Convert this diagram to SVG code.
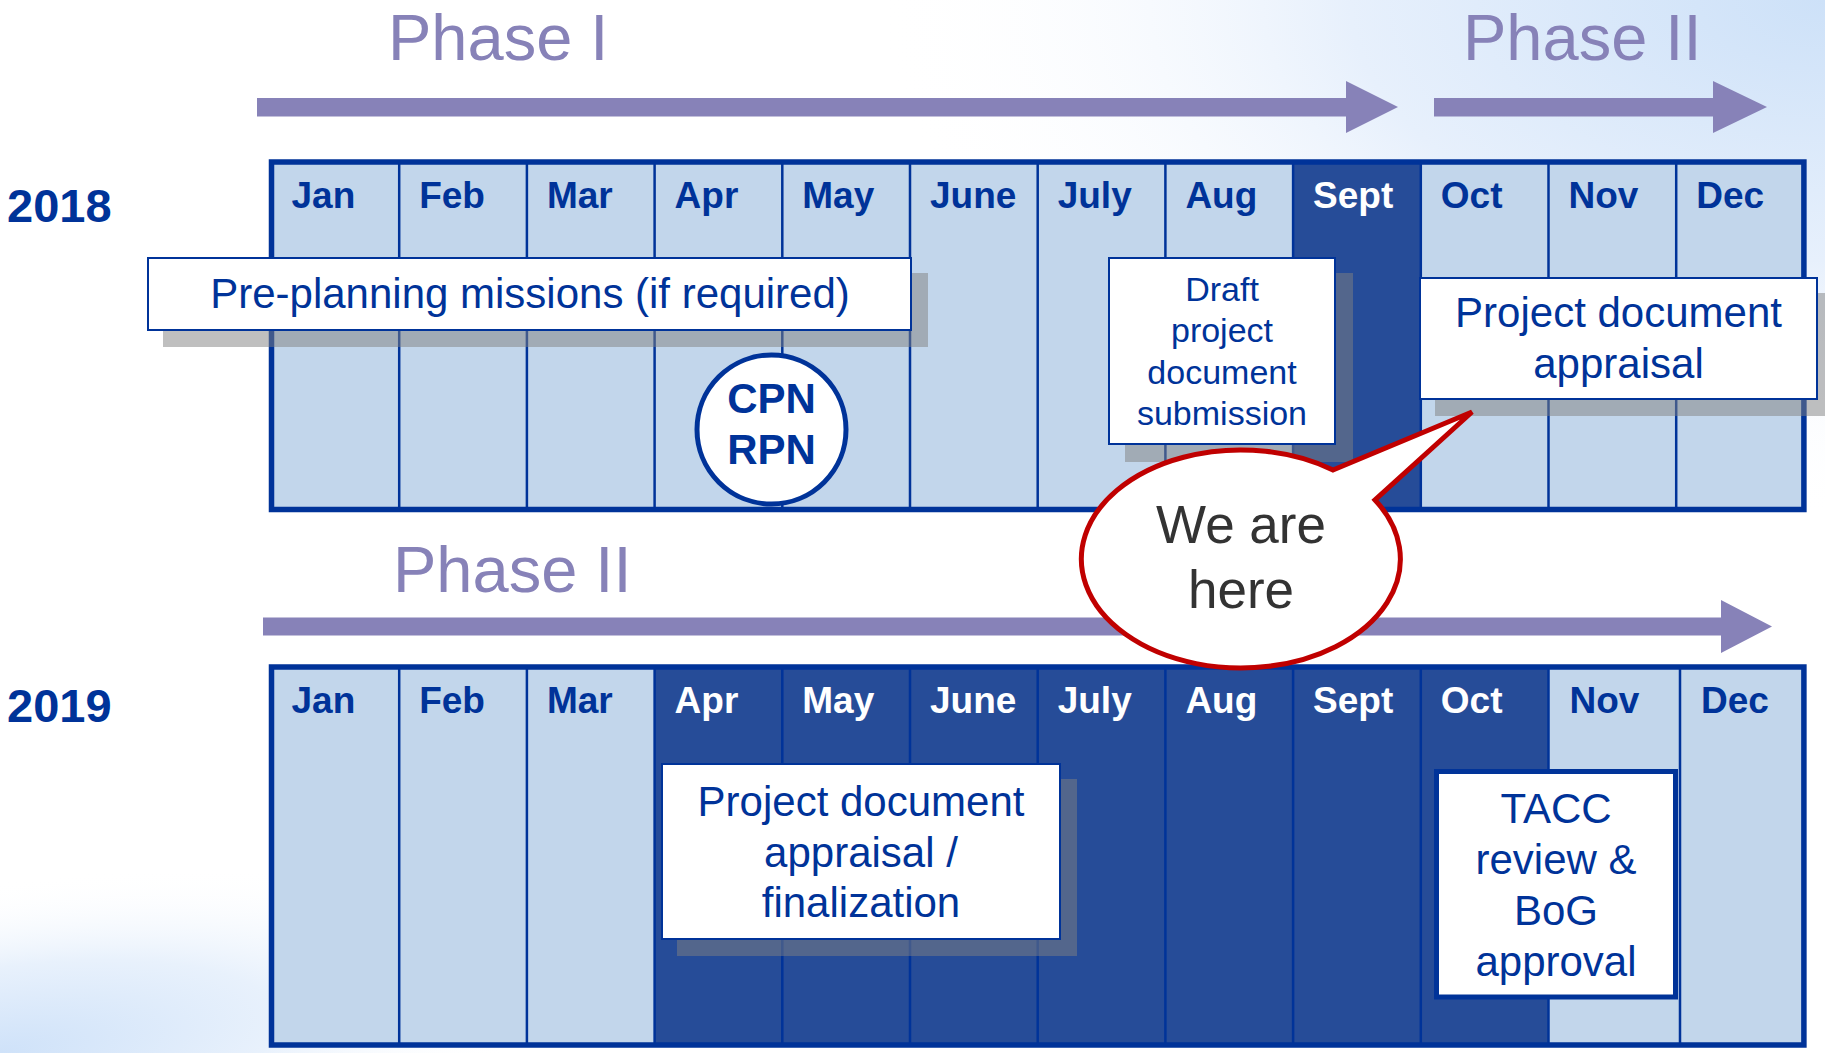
<svg xmlns="http://www.w3.org/2000/svg" width="1825" height="1053" viewBox="0 0 1825 1053">
<defs>
<radialGradient id="bgTR" gradientUnits="userSpaceOnUse" cx="0" cy="0" r="1" gradientTransform="translate(1825 0) scale(950 520)">
<stop offset="0" stop-color="#cde1f8"/>
<stop offset="0.5" stop-color="#e7f0fc"/>
<stop offset="1" stop-color="#ffffff" stop-opacity="0"/>
</radialGradient>
<radialGradient id="bgBL" gradientUnits="userSpaceOnUse" cx="0" cy="0" r="1" gradientTransform="translate(0 1053) rotate(-8) scale(560 170)">
<stop offset="0" stop-color="#cfe2f9"/>
<stop offset="0.5" stop-color="#e8f1fc"/>
<stop offset="1" stop-color="#ffffff" stop-opacity="0"/>
</radialGradient>
<style>
text{font-family:"Liberation Sans",Arial,Helvetica,sans-serif}
.phase{font-size:65px;fill:#8782B8}
.year{font-size:47px;font-weight:bold;fill:#003399}
.mon{font-size:37px;font-weight:bold;fill:#003399}
.w{fill:#ffffff}
.lt{fill:#C2D6EB}
.dk{fill:#264C98}
.div{stroke:#003399;stroke-width:2.5}
.frame{fill:none;stroke:#003399;stroke-width:5.5}
.box{fill:#ffffff;stroke:#003399;stroke-width:2}
.shadow{fill:#808080;fill-opacity:0.5}
.lbl{font-size:42px;fill:#003399;text-anchor:middle}
.arrow{fill:#8782B8}
</style>
</defs>
<rect width="1825" height="1053" fill="#ffffff"/>
<rect width="1825" height="1053" fill="url(#bgTR)"/>
<rect width="1825" height="1053" fill="url(#bgBL)"/>

<g id="phase-labels">
<text class="phase" x="388" y="60">Phase I</text>
<text class="phase" x="1463" y="60">Phase II</text>
<text class="phase" x="393" y="592">Phase II</text>
</g>

<g id="connectors">
<polygon class="arrow" points="257,98 1346,98 1346,81 1398,107 1346,133 1346,116.5 257,116.5"/>
<polygon class="arrow" points="1434,98 1713,98 1713,81 1767,107 1713,133 1713,116.5 1434,116.5"/>
<polygon class="arrow" points="263,617.5 1721,617.5 1721,600 1772,626.5 1721,653 1721,635.5 263,635.5"/>
</g>

<g id="grid-2018">
<rect class="lt" x="271.5" y="162" width="1532.4" height="347.5"/>
<rect class="dk" x="1293.1" y="162" width="127.7" height="347.5"/>
<g class="div">
<line x1="399.2" y1="162" x2="399.2" y2="509.5"/>
<line x1="526.9" y1="162" x2="526.9" y2="509.5"/>
<line x1="654.6" y1="162" x2="654.6" y2="509.5"/>
<line x1="782.3" y1="162" x2="782.3" y2="509.5"/>
<line x1="910" y1="162" x2="910" y2="509.5"/>
<line x1="1037.7" y1="162" x2="1037.7" y2="509.5"/>
<line x1="1165.4" y1="162" x2="1165.4" y2="509.5"/>
<line x1="1293.1" y1="162" x2="1293.1" y2="509.5"/>
<line x1="1420.8" y1="162" x2="1420.8" y2="509.5"/>
<line x1="1548.5" y1="162" x2="1548.5" y2="509.5"/>
<line x1="1676.2" y1="162" x2="1676.2" y2="509.5"/>
</g>
<rect class="frame" x="271.5" y="162" width="1532.4" height="347.5"/>
<text class="year" x="7" y="222">2018</text>
<text class="mon" x="291.5" y="208">Jan</text>
<text class="mon" x="419.2" y="208">Feb</text>
<text class="mon" x="546.9" y="208">Mar</text>
<text class="mon" x="674.6" y="208">Apr</text>
<text class="mon" x="802.3" y="208">May</text>
<text class="mon" x="930" y="208">June</text>
<text class="mon" x="1057.7" y="208">July</text>
<text class="mon" x="1185.4" y="208">Aug</text>
<text class="mon w" x="1313.1" y="208">Sept</text>
<text class="mon" x="1440.8" y="208">Oct</text>
<text class="mon" x="1568.5" y="208">Nov</text>
<text class="mon" x="1696.2" y="208">Dec</text>
</g>

<g id="node-preplanning">
<rect class="shadow" x="163" y="273" width="765" height="74"/>
<rect class="box" x="148" y="258" width="763" height="72"/>
<text class="lbl" x="530" y="308">Pre-planning missions (if required)</text>
</g>

<g id="node-cpn-rpn">
<circle cx="771.5" cy="429.5" r="74.5" fill="#ffffff" stroke="#003399" stroke-width="5"/>
<text x="771.5" y="413" font-size="42" font-weight="bold" fill="#003399" text-anchor="middle">CPN</text>
<text x="771.5" y="464" font-size="42" font-weight="bold" fill="#003399" text-anchor="middle">RPN</text>
</g>

<g id="node-draft">
<rect class="shadow" x="1125" y="273" width="228" height="189"/>
<rect class="box" x="1109" y="258" width="226" height="186"/>
<text class="lbl" font-size="34" style="font-size:34px" x="1222" y="301">Draft</text>
<text class="lbl" style="font-size:34px" x="1222" y="342">project</text>
<text class="lbl" style="font-size:34px" x="1222" y="384">document</text>
<text class="lbl" style="font-size:34px" x="1222" y="425">submission</text>
</g>

<g id="node-appraisal-2018">
<rect class="shadow" x="1435" y="293" width="400" height="123"/>
<rect class="box" x="1420" y="278" width="397" height="121"/>
<text class="lbl" x="1618.5" y="327">Project document</text>
<text class="lbl" x="1618.5" y="378">appraisal</text>
</g>

<g id="grid-2019">
<rect class="lt" x="271.5" y="667" width="1532.4" height="378"/>
<rect class="dk" x="654.6" y="667" width="893.9" height="378"/>
<g class="div">
<line x1="399.2" y1="667" x2="399.2" y2="1045"/>
<line x1="526.9" y1="667" x2="526.9" y2="1045"/>
<line x1="654.6" y1="667" x2="654.6" y2="1045"/>
<line x1="782.3" y1="667" x2="782.3" y2="1045"/>
<line x1="910" y1="667" x2="910" y2="1045"/>
<line x1="1037.7" y1="667" x2="1037.7" y2="1045"/>
<line x1="1165.4" y1="667" x2="1165.4" y2="1045"/>
<line x1="1293.1" y1="667" x2="1293.1" y2="1045"/>
<line x1="1420.8" y1="667" x2="1420.8" y2="1045"/>
<line x1="1548.5" y1="667" x2="1548.5" y2="1045"/>
<line x1="1680" y1="667" x2="1680" y2="1045"/>
</g>
<rect class="frame" x="271.5" y="667" width="1532.4" height="378"/>
<text class="year" x="7" y="722">2019</text>
<text class="mon" x="291.5" y="713">Jan</text>
<text class="mon" x="419.2" y="713">Feb</text>
<text class="mon" x="546.9" y="713">Mar</text>
<text class="mon w" x="674.6" y="713">Apr</text>
<text class="mon w" x="802.3" y="713">May</text>
<text class="mon w" x="930" y="713">June</text>
<text class="mon w" x="1057.7" y="713">July</text>
<text class="mon w" x="1185.4" y="713">Aug</text>
<text class="mon w" x="1313.1" y="713">Sept</text>
<text class="mon w" x="1440.8" y="713">Oct</text>
<text class="mon" x="1569.5" y="713">Nov</text>
<text class="mon" x="1701" y="713">Dec</text>
</g>

<g id="node-appraisal-2019">
<rect class="shadow" x="677" y="779" width="400" height="177"/>
<rect class="box" x="662" y="764" width="398" height="175"/>
<text class="lbl" x="861" y="816">Project document</text>
<text class="lbl" x="861" y="867">appraisal /</text>
<text class="lbl" x="861" y="917">finalization</text>
</g>

<g id="node-tacc">
<rect x="1436.5" y="771.5" width="239" height="225.5" fill="#ffffff" stroke="#003399" stroke-width="5"/>
<text class="lbl" x="1556" y="823">TACC</text>
<text class="lbl" x="1556" y="874">review &amp;</text>
<text class="lbl" x="1556" y="925">BoG</text>
<text class="lbl" x="1556" y="976">approval</text>
</g>

<g id="node-callout">
<path d="M1333,470 L1472,412 L1375,500 A159.5,109 0 1 1 1333,470 Z" fill="#ffffff" stroke="#C00000" stroke-width="5" stroke-linejoin="miter"/>
<text x="1241" y="543" font-size="53" fill="#333333" text-anchor="middle">We are</text>
<text x="1241" y="608" font-size="53" fill="#333333" text-anchor="middle">here</text>
</g>
</svg>
